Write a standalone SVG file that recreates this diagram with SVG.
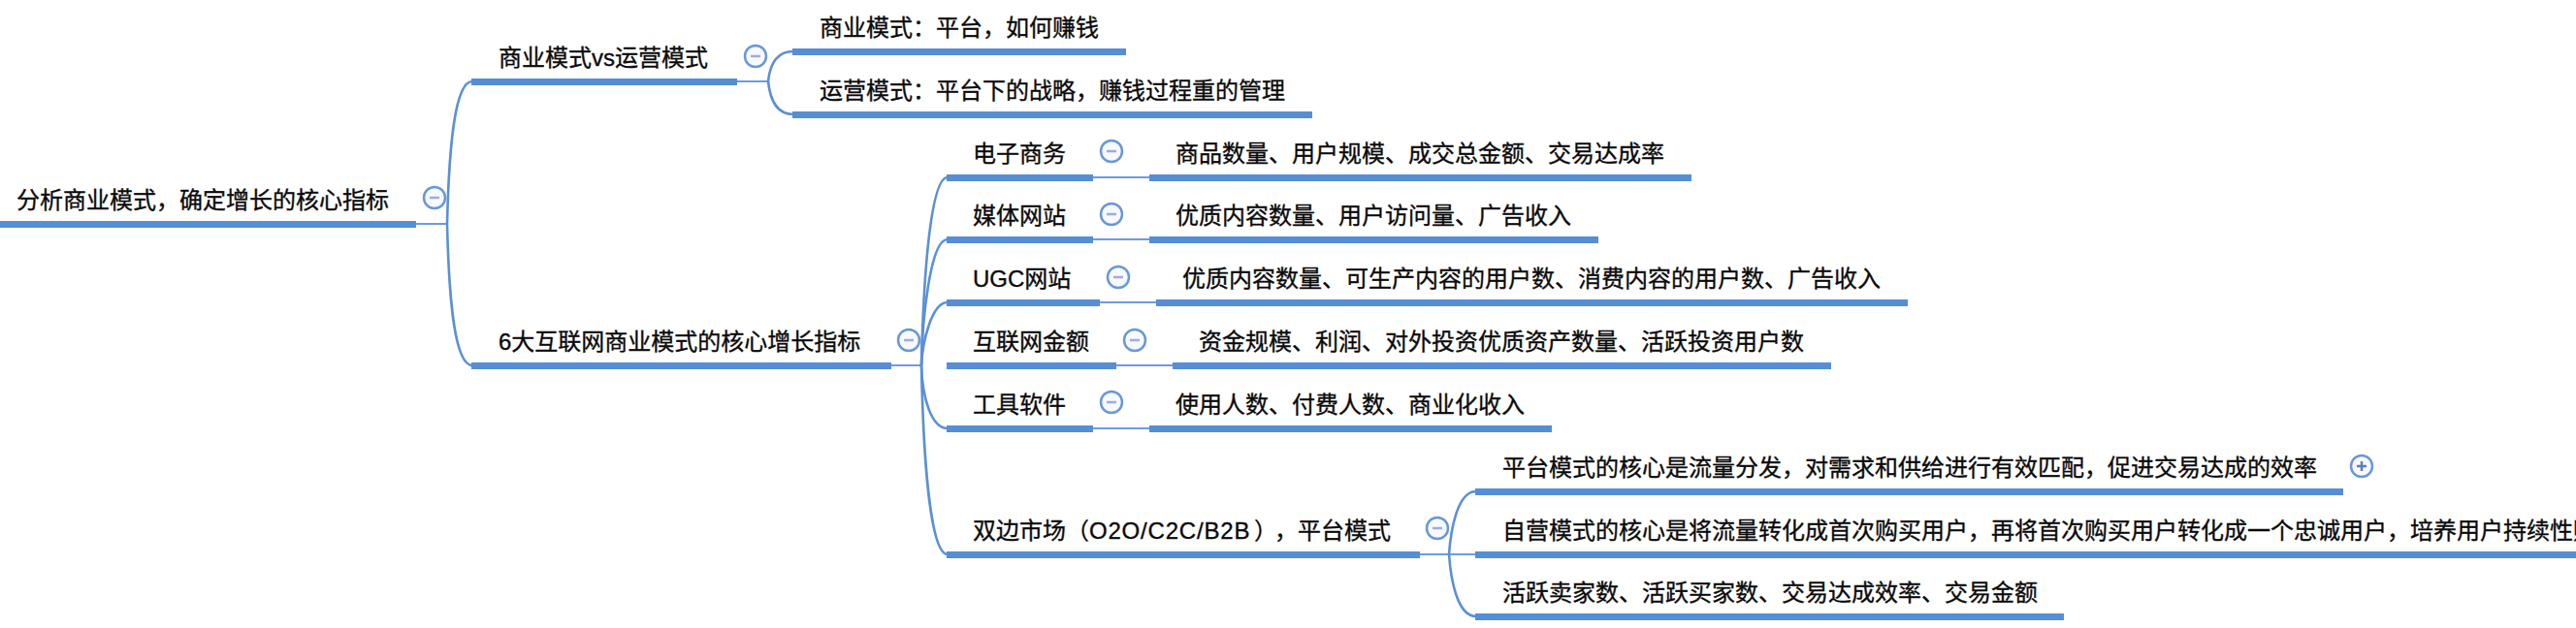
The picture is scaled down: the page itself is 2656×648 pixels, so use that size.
<svg xmlns="http://www.w3.org/2000/svg" width="2656" height="648" viewBox="0 0 2656 648">
<style>
text{font-family:"Liberation Sans","Noto Sans CJK SC",sans-serif;font-size:24px;fill:#0a0a0a;stroke:#0a0a0a;stroke-width:.35px}
.bar{fill:#558ed5}
.link{fill:none;stroke:#5b90d6;stroke-width:2.6}
.h{fill:none;stroke:#6f9bdb;stroke-width:2}
.tg{fill:#f6f9fd;stroke:#6a97d6;stroke-width:2.5}
.mn{stroke:#a3abd8;stroke-width:2.5}
.pl{stroke:#5f7fb8;stroke-width:2.5}
</style>
<rect width="2656" height="648" fill="#fff"/>
<g id="connectors">
<path class="h" d="M429 231H461"/>
<path class="link" d="M461 231C463 150 469 84 487 84"/>
<path class="link" d="M461 231C463 312 469 377 487 377"/>
<path class="h" d="M760 84H792"/>
<path class="link" d="M792 84C794 65 801 53 818 53"/>
<path class="link" d="M792 84C794 103 801 118 818 118"/>
<path class="h" d="M919 377H950"/>
<path class="link" d="M950 377C952 290 959 183 977 183"/>
<path class="link" d="M950 377C951 330 959 247 977 247"/>
<path class="link" d="M950 377C951 355 960 312 977 312"/>
<path class="link" d="M950 377C951 410 960 442 977 442"/>
<path class="link" d="M950 377C952 470 959 572 977 572"/>
<path class="h" d="M1127 183H1185"/>
<path class="h" d="M1127 247H1185"/>
<path class="h" d="M1134 312H1192"/>
<path class="h" d="M1151 377H1209"/>
<path class="h" d="M1127 442H1185"/>
<path class="h" d="M1464 572H1521"/>
<path class="link" d="M1494 572C1496 545 1503 507 1522 507"/>
<path class="link" d="M1494 572C1496 600 1503 636 1522 636"/>
</g>
<g id="root"><rect class="bar" x="0" y="228" width="429" height="7"/><text x="17" y="215">分析商业模式，确定增长的核心指标</text><circle class="tg" cx="448" cy="204" r="11"/><path class="mn" d="M443 204H453"/></g>
<g id="n-vs"><rect class="bar" x="486" y="81" width="274" height="7"/><text x="514" y="68">商业模式vs运营模式</text><circle class="tg" cx="779" cy="58" r="11"/><path class="mn" d="M774 58H784"/></g>
<g id="n-biz"><rect class="bar" x="817" y="50" width="344" height="7"/><text x="845" y="37">商业模式：平台，如何赚钱</text></g>
<g id="n-ops"><rect class="bar" x="817" y="115" width="536" height="7"/><text x="845" y="102">运营模式：平台下的战略，赚钱过程重的管理</text></g>
<g id="n-six"><rect class="bar" x="486" y="374" width="433" height="7"/><text x="514" y="361">6大互联网商业模式的核心增长指标</text><circle class="tg" cx="937" cy="351" r="11"/><path class="mn" d="M932 351H942"/></g>
<g id="n-ec"><rect class="bar" x="976" y="180" width="151" height="7"/><text x="1003" y="167">电子商务</text><circle class="tg" cx="1146" cy="156" r="11"/><path class="mn" d="M1141 156H1151"/></g>
<g id="n-ec-l"><rect class="bar" x="1185" y="180" width="559" height="7"/><text x="1212" y="167">商品数量、用户规模、成交总金额、交易达成率</text></g>
<g id="n-media"><rect class="bar" x="976" y="244" width="151" height="7"/><text x="1003" y="231">媒体网站</text><circle class="tg" cx="1146" cy="221" r="11"/><path class="mn" d="M1141 221H1151"/></g>
<g id="n-media-l"><rect class="bar" x="1185" y="244" width="463" height="7"/><text x="1212" y="231">优质内容数量、用户访问量、广告收入</text></g>
<g id="n-ugc"><rect class="bar" x="976" y="309" width="158" height="7"/><text x="1003" y="296">UGC网站</text><circle class="tg" cx="1153" cy="286" r="11"/><path class="mn" d="M1148 286H1158"/></g>
<g id="n-ugc-l"><rect class="bar" x="1192" y="309" width="775" height="7"/><text x="1219" y="296">优质内容数量、可生产内容的用户数、消费内容的用户数、广告收入</text></g>
<g id="n-fin"><rect class="bar" x="976" y="374" width="175" height="7"/><text x="1003" y="361">互联网金额</text><circle class="tg" cx="1170" cy="351" r="11"/><path class="mn" d="M1165 351H1175"/></g>
<g id="n-fin-l"><rect class="bar" x="1209" y="374" width="679" height="7"/><text x="1236" y="361">资金规模、利润、对外投资优质资产数量、活跃投资用户数</text></g>
<g id="n-tool"><rect class="bar" x="976" y="439" width="151" height="7"/><text x="1003" y="426">工具软件</text><circle class="tg" cx="1146" cy="415" r="11"/><path class="mn" d="M1141 415H1151"/></g>
<g id="n-tool-l"><rect class="bar" x="1185" y="439" width="415" height="7"/><text x="1212" y="426">使用人数、付费人数、商业化收入</text></g>
<g id="n-two"><rect class="bar" x="976" y="569" width="488" height="7"/><text x="1003" y="556">双边市场（<tspan x="1123" letter-spacing=".8">O2O/C2C/B2B</tspan><tspan x="1293">）</tspan><tspan x="1314">，</tspan><tspan x="1338">平台模式</tspan></text><circle class="tg" cx="1482" cy="545" r="11"/><path class="mn" d="M1477 545H1487"/></g>
<g id="n-two-a"><rect class="bar" x="1521" y="504" width="895" height="7"/><text x="1549" y="491">平台模式的核心是流量分发，对需求和供给进行有效匹配，促进交易达成的效率</text><circle class="tg" cx="2435" cy="481" r="11"/><path class="pl" d="M2430 481H2440M2435 476V486"/></g>
<g id="n-two-b"><rect class="bar" x="1521" y="569" width="1135" height="7"/><text x="1549" y="556">自营模式的核心是将流量转化成首次购买用户，再将首次购买用户转化成一个忠诚用户，培养用户持续性购</text></g>
<g id="n-two-c"><rect class="bar" x="1521" y="633" width="607" height="7"/><text x="1549" y="620">活跃卖家数、活跃买家数、交易达成效率、交易金额</text></g>
</svg>
